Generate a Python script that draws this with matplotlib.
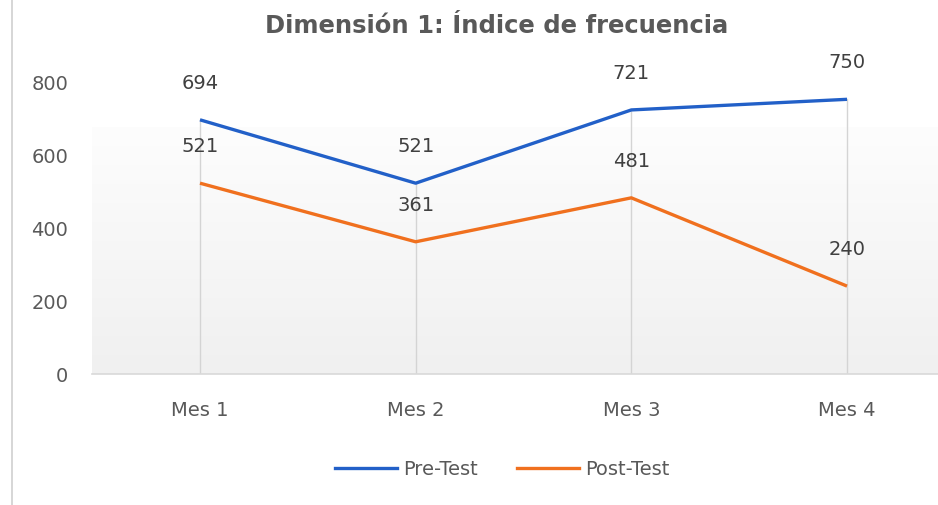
import matplotlib
matplotlib.use("Agg")
import matplotlib.pyplot as plt
import numpy as np
from matplotlib.lines import Line2D
from matplotlib.colors import LinearSegmentedColormap

categories = ["Mes 1", "Mes 2", "Mes 3", "Mes 4"]
pre_test = [694, 521, 721, 750]
post_test = [521, 361, 481, 240]
yticks = [0, 200, 400, 600, 800]
title = "Dimensión 1: Índice de frecuencia"

plt.rcParams['font.family'] = ['DejaVu Sans']

W, H = 938, 506
fig = plt.figure(figsize=(W / 100, H / 100), dpi=100)

# axes geometry in pixels
left_px, right_px = 92, 938
y0_px, y800_px = 375, 82
top_px = 50
ppu = (y0_px - y800_px) / 800.0
ymax = (y0_px - top_px) / ppu
ax = fig.add_axes([left_px / W, 1 - y0_px / H, (right_px - left_px) / W, (y0_px - top_px) / H])

cat_px = [200, 415.5, 631, 847]
step = 215.67
xmin = -(cat_px[0] - left_px) / step
xmax = (right_px - cat_px[0]) / step
ax.set_xlim(xmin, xmax)
ax.set_ylim(0, ymax)

# gradient background
grad_top = (y0_px - 128) / ppu
cmap = LinearSegmentedColormap.from_list("g", ["#f0f0f0", "#fdfdfd"])
grad = np.linspace(0, 1, 256).reshape(-1, 1)
ax.imshow(grad, extent=[xmin, xmax, 0, grad_top], origin='lower', cmap=cmap,
          aspect='auto', zorder=0)

x = np.arange(len(categories))

# drop lines
for xi, a, b in zip(x, pre_test, post_test):
    ax.plot([xi, xi], [0, max(a, b)], color="#d4d4d4", lw=1.0, zorder=1)

blue = "#2260C8"
orange = "#F0701E"
ax.plot(x, pre_test, color=blue, lw=2.4, zorder=3, solid_capstyle='butt')
ax.plot(x, post_test, color=orange, lw=2.4, zorder=3, solid_capstyle='butt')

for series in (pre_test, post_test):
    for xi, v in zip(x, series):
        ax.annotate(str(v), (xi, v), xytext=(0, 27), textcoords='offset points',
                    ha='center', va='center', fontsize=14, color="#404040", zorder=4)

for s in ['top', 'right', 'left']:
    ax.spines[s].set_visible(False)
ax.spines['bottom'].set_color("#d9d9d9")
ax.spines['bottom'].set_linewidth(1.2)

ax.set_yticks(yticks)
ax.set_yticklabels([str(t) for t in yticks], fontsize=14, color="#595959")
ax.set_xticks(x)
ax.set_xticklabels(categories, fontsize=14, color="#595959")
ax.tick_params(axis='both', length=0)
ax.tick_params(axis='y', pad=17)
ax.tick_params(axis='x', pad=19)

fig.text(497 / W, 1 - 26 / H, title, ha='center', va='center', fontsize=17.5,
         fontweight='bold', color="#595959")

# legend
handles = [Line2D([0], [0], color=blue, lw=2.4), Line2D([0], [0], color=orange, lw=2.4)]
fig.legend(handles, ["Pre-Test", "Post-Test"], loc='center', bbox_to_anchor=(502 / W, 1 - 470 / H),
           ncol=2, frameon=False, fontsize=14, labelcolor="#595959",
           handlelength=3.2, handletextpad=0.3, columnspacing=2.0)

# left border line
fig.add_artist(Line2D([11.5 / W, 11.5 / W], [0, 1], color="#d0d0d0", lw=1.2, transform=fig.transFigure))

fig.savefig("out.png", dpi=100)
